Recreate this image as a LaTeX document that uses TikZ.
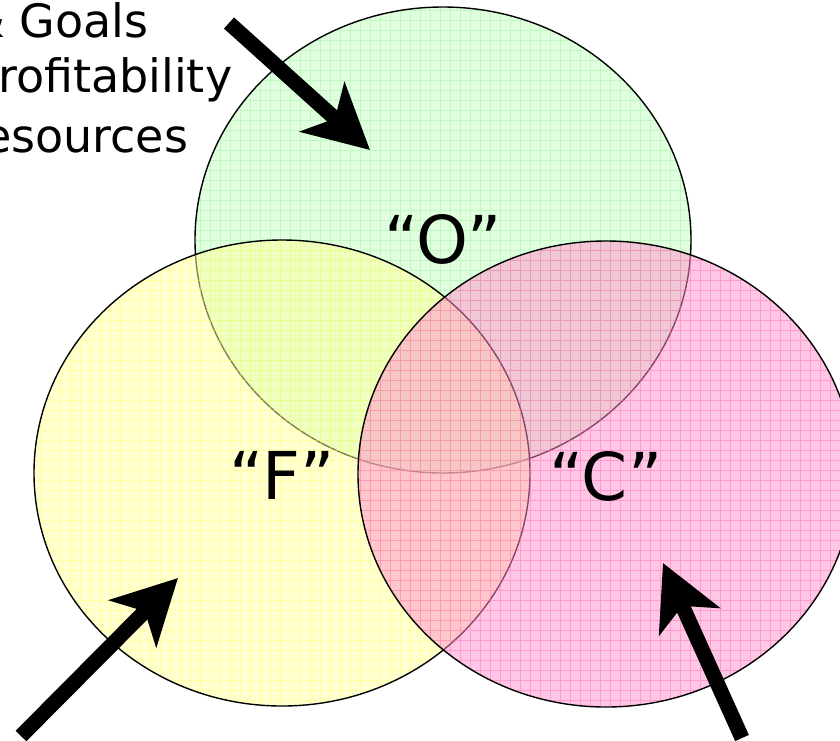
\documentclass[tikz,border=0pt]{standalone}
\usepackage{fontspec}
\setmainfont{DejaVu Sans}
\usetikzlibrary{arrows.meta}

% fills (laid on at half opacity) and grid lines of the three ovals
\definecolor{ofill}{RGB}{193,255,193}
\definecolor{ogrid}{RGB}{150,235,150}
\definecolor{ffill}{RGB}{255,255,160}
\definecolor{fgrid}{RGB}{255,255,90}
\definecolor{cfill}{RGB}{255,145,205}
\definecolor{cgrid}{RGB}{255,90,170}

\begin{document}
\begin{tikzpicture}[x=1pt,y=-1pt,
  oval/.style={x radius=248pt,y radius=233pt},
  veil/.style={fill opacity=0.5},
  rim/.style={line width=1.4pt,black},
  gridline/.style={line width=0.8pt,opacity=0.4},
  bigarrow/.style={line width=15pt,
    -{Stealth[length=64pt,width=66pt,inset=17pt]}},
  letter/.style={font=\fontsize{66}{79}\selectfont,anchor=base,inner sep=0pt},
  sidetext/.style={font=\fontsize{46}{55}\selectfont,anchor=base west,inner sep=0pt}]
\useasboundingbox (0,0) rectangle (840,740);
\clip (0,0) rectangle (840,740);
\fill[white] (0,0) rectangle (840,740);

\coordinate (cO) at (443,240);
\coordinate (cF) at (282,473);
\coordinate (cC) at (606,474);

% top oval
\fill[ofill,veil] (cO) ellipse[oval];
\begin{scope}
  \clip (cO) ellipse[oval];
  \draw[ogrid,gridline,step=10pt] (180,480) grid (700,0);
\end{scope}
\draw[rim] (cO) ellipse[oval];

% left oval
\fill[ffill,veil] (cF) ellipse[oval];
\begin{scope}
  \clip (cF) ellipse[oval];
  \draw[fgrid,gridline,step=10pt] (20,720) grid (540,230);
\end{scope}
\draw[rim] (cF) ellipse[oval];

% right oval
\fill[cfill,veil] (cC) ellipse[oval];
\begin{scope}
  \clip (cC) ellipse[oval];
  \draw[cgrid,gridline,step=10pt] (350,720) grid (860,230);
\end{scope}
\draw[rim] (cC) ellipse[oval];

% letters
\node[letter] (lO) at (443,263) {“O”};
\node[letter] (lF) at (282,499) {“F”};
\node[letter] (lC) at (606,500) {“C”};

% side list
\node[sidetext] (goals) at (-31,37) {\& Goals};
\node[sidetext] (profit) at (-29,92) {Profitability};
\node[sidetext] (res) at (-47,152) {Resources};

% arrows
\coordinate (a1s) at (229,23);
\coordinate (a1e) at (370,150);
\coordinate (a2s) at (21,736);
\coordinate (a2e) at (178,578);
\coordinate (a3s) at (742,738);
\coordinate (a3e) at (663,563);
\draw[bigarrow] (a1s) -- (a1e);
\draw[bigarrow] (a2s) -- (a2e);
\draw[bigarrow] (a3s) -- (a3e);
\end{tikzpicture}
\end{document}
